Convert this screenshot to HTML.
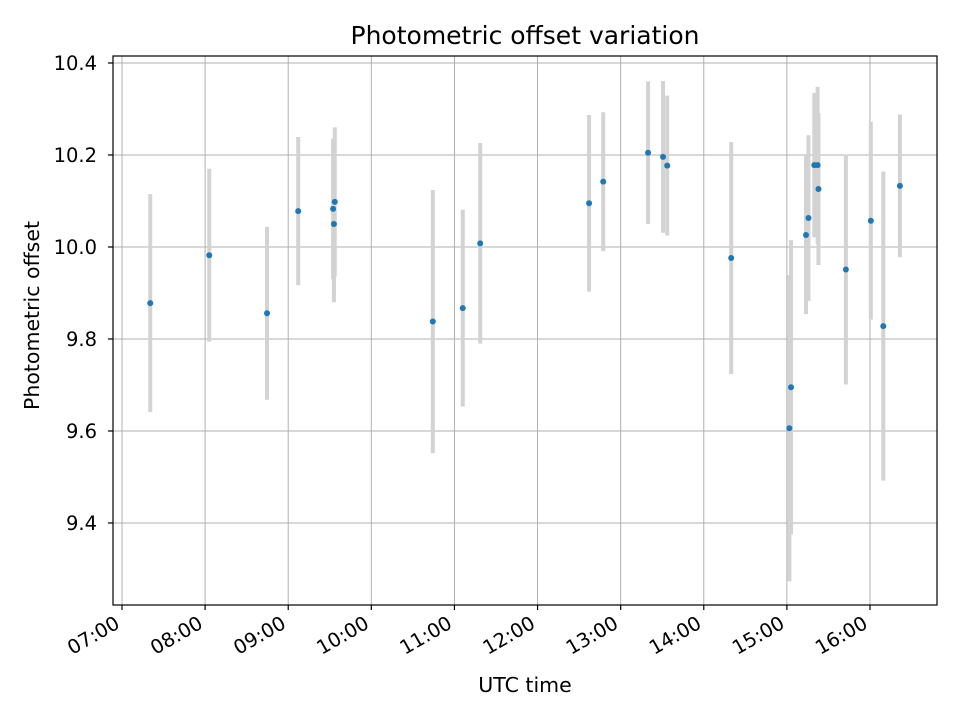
<!DOCTYPE html>
<html><head><meta charset="utf-8"><style>
body{margin:0;background:#fff;font-family:"Liberation Sans","DejaVu Sans",sans-serif;}
svg text{font-family:"DejaVu Sans","Liberation Sans",sans-serif;}
</style></head><body>
<svg id="chart" width="960" height="720" xmlns="http://www.w3.org/2000/svg"></svg>
<script>
const times=[7.34,8.05,8.745,9.12,9.54,9.55,9.56,10.74,11.10,11.31,12.62,12.79,13.33,13.51,13.56,14.33,15.03,15.05,15.23,15.26,15.33,15.37,15.38,15.71,16.01,16.16,16.36];
const offsets=[9.878,9.982,9.856,10.078,10.083,10.05,10.098,9.838,9.867,10.008,10.095,10.142,10.205,10.196,10.177,9.976,9.606,9.695,10.026,10.063,10.178,10.178,10.126,9.951,10.057,9.828,10.133];
const errors=[0.237,0.188,0.188,0.161,0.153,0.17,0.162,0.286,0.214,0.218,0.192,0.151,0.155,0.165,0.152,0.252,0.333,0.32,0.172,0.18,0.157,0.17,0.165,0.25,0.215,0.336,0.155];
const yTicks=[9.4,9.6,9.8,10.0,10.2,10.4];
const xTicks=[7,8,9,10,11,12,13,14,15,16];
const xTickLabels=["07:00","08:00","09:00","10:00","11:00","12:00","13:00","14:00","15:00","16:00"];

const NS="http://www.w3.org/2000/svg";
const svg=document.getElementById('chart');
const L=113,R=937,T=56,B=605;
function xs(h){return 122+(h-7)*83.11;}
function ys(v){return 523-(v-9.4)*460;}
function mk(tag,attrs,parent){const e=document.createElementNS(NS,tag);for(const k in attrs)e.setAttribute(k,attrs[k]);(parent||svg).appendChild(e);return e;}

const grid=mk('g',{});


xTicks.forEach((t,i)=>{
  const x=xs(t);
  const g=mk('line',{x1:x,x2:x,y1:T,y2:B,stroke:'#b0b0b0','stroke-width':1},grid);
  
  
  mk('line',{x1:x,x2:x,y1:B,y2:B+5,stroke:'#000','stroke-width':1.2});
  const ax=x-1, ay=B+22;
  const tx=mk('text',{x:ax,y:ay,'font-size':19.5,'text-anchor':'end',transform:`rotate(-30 ${ax} ${ay})`});
  tx.textContent=xTickLabels[i];
  
  
});
yTicks.forEach(v=>{
  const y=ys(v);
  const g=mk('line',{x1:L,x2:R,y1:y,y2:y,stroke:'#b0b0b0','stroke-width':1},grid);
  
  
  mk('line',{x1:L-5,x2:L,y1:y,y2:y,stroke:'#000','stroke-width':1.2});
  const tx=mk('text',{x:L-16,y:y+7,'font-size':19.5,'text-anchor':'end'});
  tx.textContent=v.toFixed(1);
  
  
});
times.forEach((t,i)=>{
  const x=xs(t);
  const eb=mk('line',{x1:x,x2:x,y1:ys(offsets[i]+errors[i]),y2:ys(offsets[i]-errors[i]),stroke:'#d3d3d3','stroke-width':4});
  
  
});
times.forEach((t,i)=>{
  const c=mk('circle',{cx:xs(t),cy:ys(offsets[i]),r:3,fill:'#1f77b4'});
  
  
});
const frame=mk('rect',{x:L,y:T,width:R-L,height:B-T,fill:'none',stroke:'#000','stroke-width':1.2});


const title=mk('text',{x:(L+R)/2,y:44,'font-size':25,'text-anchor':'middle'});
title.textContent='Photometric offset variation';


const xl=mk('text',{x:(L+R)/2,y:692,'font-size':20.5,'text-anchor':'middle'});
xl.textContent='UTC time';


const yl=mk('text',{x:39,y:(T+B)/2-15,'font-size':20.5,'text-anchor':'middle',transform:`rotate(-90 39 ${(T+B)/2-15})`});
yl.textContent='Photometric offset';


</script>
</body></html>
